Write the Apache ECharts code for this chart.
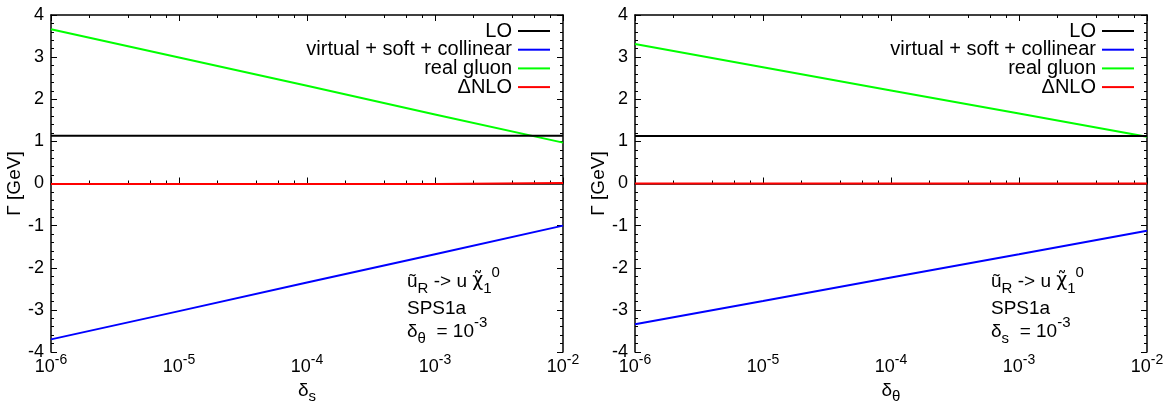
<!DOCTYPE html>
<html>
<head>
<meta charset="utf-8">
<script src="https://cdn.jsdelivr.net/npm/echarts@6/dist/echarts.min.js"></script>
<style>html,body{margin:0;padding:0;background:#fff}#c{width:1175px;height:404px}</style>
</head>
<body>
<div id="c"></div>
<script>
// ---- data ----
const xValues = [1e-6, 1e-5, 1e-4, 1e-3, 1e-2];
const xMinorTicks = [2,4,6,8].flatMap(m => [1e-6,1e-5,1e-4,1e-3].map(d => m*d));
const seriesNames = ['LO', 'virtual + soft + collinear', 'real gluon', '\u0394NLO'];
// left panel: vs delta_s
const leftLO      = [1.135, 1.135, 1.135, 1.135, 1.135];
const leftVirtual = [-3.70, -3.03, -2.35, -1.68, -1.00];
const leftReal    = [3.66, 2.99, 2.32, 1.64, 0.97];
const leftNLO     = [-0.01, -0.01, -0.01, -0.01, 0.01];
// right panel: vs delta_theta
const rightLO      = [1.13, 1.13, 1.13, 1.13, 1.13];
const rightVirtual = [-3.34, -2.79, -2.23, -1.68, -1.12];
const rightReal    = [3.31, 2.76, 2.21, 1.66, 1.11];
const rightNLO     = [0.0, 0.0, 0.0, 0.0, 0.0];
const yTicks = [-4, 4, 1];
const colors = ['#000000', '#0000ff', '#00ff00', '#ff0000'];

const FONT = 'Liberation Sans, Arial, sans-serif';
const chart = echarts.init(document.getElementById('c'));

const grids = [
  {left: 51, right: 612, top: 15, bottom: 52, outerBoundsMode: 'none', containLabel: false},
  {left: 635, right: 28, top: 15, bottom: 52, outerBoundsMode: 'none', containLabel: false}
];
const xNames = [['\u03b4', 's'], ['\u03b4', '\u03b8']];

const tickRich = {
  b: {fontSize: 18, fontFamily: FONT, color: '#000'},
  s: {fontSize: 14, fontFamily: FONT, color: '#000', padding: [0, 0, 15, 0]}
};
const nameRich = {
  b: {fontSize: 19, fontFamily: FONT, color: '#000'},
  sub: {fontSize: 15, fontFamily: FONT, color: '#000', padding: [12, 0, 0, 0]}
};

const xAxes = [], yAxes = [], series = [], legends = [];
grids.forEach((g, p) => {
  const base = {type: 'log', logBase: 10, min: xValues[0], max: xValues[xValues.length-1], gridIndex: p,
    splitLine: {show: false}, minorTick: {show: false}, minorSplitLine: {show: false}};
  xAxes.push(Object.assign({}, base, {
    position: 'bottom',
    axisLine: {show: true, lineStyle: {color: '#000', width: 1.5}},
    axisTick: {show: true, inside: true, length: 6, lineStyle: {color: '#000'}},
    axisLabel: {show: true, margin: 1, formatter: v => '{b|10}{s|' + Math.round(Math.log10(v)) + '}', rich: tickRich},
    name: '{b|' + xNames[p][0] + '}{sub|' + xNames[p][1] + '}',
    nameLocation: 'middle', nameGap: 24,
    nameTextStyle: {rich: nameRich}
  }));
  xAxes.push(Object.assign({}, base, {
    position: 'bottom', axisLine: {show: false}, axisLabel: {show: false},
    axisTick: {show: true, inside: true, length: 3, customValues: xMinorTicks, lineStyle: {color: '#000'}}
  }));
  xAxes.push(Object.assign({}, base, {
    position: 'top', axisLine: {show: true, lineStyle: {color: '#000', width: 1.5}}, axisLabel: {show: false},
    axisTick: {show: true, inside: true, length: 6, lineStyle: {color: '#000'}}
  }));
  xAxes.push(Object.assign({}, base, {
    position: 'top', axisLine: {show: false}, axisLabel: {show: false},
    axisTick: {show: true, inside: true, length: 3, customValues: xMinorTicks, lineStyle: {color: '#000'}}
  }));
  const ybase = {type: 'value', min: yTicks[0], max: yTicks[1], interval: yTicks[2], gridIndex: p,
    splitLine: {show: false},
    axisLine: {show: true, lineStyle: {color: '#000', width: 1.5}},
    axisTick: {show: true, inside: true, length: 6, lineStyle: {color: '#000'}},
    minorTick: {show: true, splitNumber: 5, length: 3, lineStyle: {color: '#000'}}};
  yAxes.push(Object.assign({}, ybase, {
    position: 'left',
    axisLabel: {show: true, margin: 7, fontSize: 18, fontFamily: FONT, color: '#000'},
    name: '\u0393 [GeV]', nameLocation: 'middle', nameGap: 22, nameRotate: 90,
    nameTextStyle: {fontSize: 19, fontFamily: FONT, color: '#000'}
  }));
  yAxes.push(Object.assign({}, ybase, {position: 'right', axisLabel: {show: false}}));
});
const panelData = [[leftLO, leftVirtual, leftReal, leftNLO], [rightLO, rightVirtual, rightReal, rightNLO]];
panelData.forEach((arrs, p) => {
  arrs.forEach((arr, i) => {
    series.push({
      type: 'line', name: seriesNames[i], xAxisIndex: p*4, yAxisIndex: p*2,
      data: xValues.map((x, k) => [x, arr[k]]),
      showSymbol: false, symbol: 'none', silent: true,
      lineStyle: {color: colors[i], width: 2}, itemStyle: {color: colors[i]},
      z: i === 0 ? 3 : 2
    });
  });
});
const legendRight = [625, 41];
const legendTops = [21, 39.7, 58.4, 77.1];
legendRight.forEach(r => {
  seriesNames.forEach((n, i) => {
    legends.push({
      data: [n], right: r, top: legendTops[i], padding: 0, align: 'right',
      icon: 'rect', itemWidth: 32, itemHeight: 2, selectedMode: false,
      textStyle: {fontSize: 20, fontFamily: FONT, color: '#000', lineHeight: 18, padding: [0, 1, 0, 0]}
    });
  });
});
const annRich = {
  m: {fontSize: 19, fontFamily: FONT, color: '#000'},
  chi: {fontSize: 19, fontFamily: 'DejaVu Sans', color: '#000'},
  sub: {fontSize: 15, fontFamily: FONT, color: '#000', padding: [15, 0, 0, 0]},
  sup: {fontSize: 15, fontFamily: FONT, color: '#000', padding: [0, 0, 18, 0]}
};
const annot = [
  {x: 407, sub: '\u03b8'},
  {x: 991, sub: 's'}
];
const graphic = [];
annot.forEach(a => {
  graphic.push({type: 'text', left: a.x, top: 265, style: {
    text: '{m|\u0169}{sub|R}{m| -> u }{chi|\u03c7\u0303}{sub|1}{sup|0}', rich: annRich}});
  graphic.push({type: 'text', left: a.x, top: 299, style: {text: '{m|SPS1a}', rich: annRich}});
  graphic.push({type: 'text', left: a.x, top: 315, style: {
    text: '{m|\u03b4}{sub|' + a.sub + '}{m|  = 10}{sup|-3}', rich: annRich}});
});

chart.setOption({
  animation: false,
  backgroundColor: '#fff',
  grid: grids,
  xAxis: xAxes,
  yAxis: yAxes,
  legend: legends,
  series: series,
  graphic: graphic
});
</script>
</body>
</html>
